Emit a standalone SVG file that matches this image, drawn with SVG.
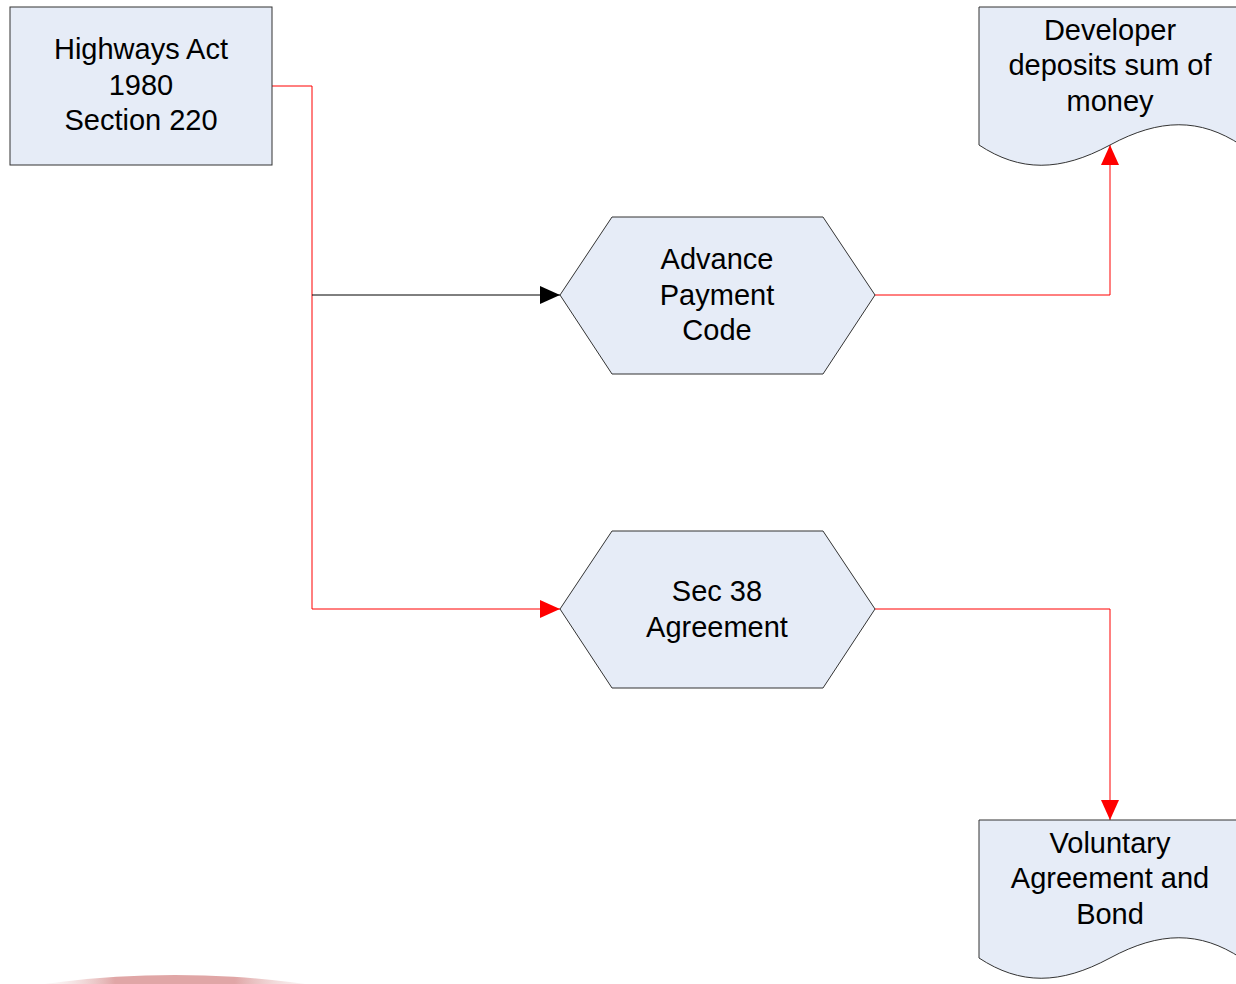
<svg xmlns="http://www.w3.org/2000/svg" width="1236" height="984" viewBox="0 0 1236 984">
<style>
.node{fill:#e6ecf7;stroke:#333;stroke-width:1}
.t{font-family:"Liberation Sans",Arial,sans-serif;font-size:29px;fill:#000;text-anchor:middle}
.red{fill:none;stroke:#ff0000;stroke-width:1}
.blk{fill:none;stroke:#000;stroke-width:1}
</style>
<defs>
<marker id="ar" markerWidth="20" markerHeight="20" refX="20" refY="10" orient="auto" markerUnits="userSpaceOnUse">
<path d="M0,1 L20,10 L0,19 Z" fill="#ff0000"/>
</marker>
<marker id="ab" markerWidth="20" markerHeight="20" refX="20" refY="10" orient="auto" markerUnits="userSpaceOnUse">
<path d="M0,1 L20,10 L0,19 Z" fill="#000"/>
</marker>
<linearGradient id="pk" x1="0" y1="0" x2="1" y2="0">
<stop offset="0.3" stop-color="#f4e4e4" stop-opacity="0.4"/>
<stop offset="0.4" stop-color="#e0a6a6"/>
<stop offset="0.6" stop-color="#e0a6a6"/>
<stop offset="0.72" stop-color="#f4e4e4" stop-opacity="0.4"/>
</linearGradient>
</defs>
<rect width="1236" height="984" fill="#fff"/>
<ellipse cx="175" cy="1066" rx="300" ry="91" fill="url(#pk)"/>
<g id="connectors">
<polyline class="red" points="272,86 312,86 312,609 560,609" marker-end="url(#ar)"/>
<polyline class="blk" points="312,295 560,295" marker-end="url(#ab)"/>
<polyline class="red" points="875,295 1110,295 1110,145" marker-end="url(#ar)"/>
<polyline class="red" points="875,609 1110,609 1110,820" marker-end="url(#ar)"/>
</g>
<g id="highways">
<rect class="node" x="10" y="7" width="262" height="158"/>
<text class="t" x="141" y="59">Highways Act</text>
<text class="t" x="141" y="95">1980</text>
<text class="t" x="141" y="130">Section 220</text>
</g>
<g id="advance">
<polygon class="node" points="560,295 612,217 823,217 875,295 823,374 612,374"/>
<text class="t" x="717" y="269">Advance</text>
<text class="t" x="717" y="305">Payment</text>
<text class="t" x="717" y="340">Code</text>
</g>
<g id="sec38">
<polygon class="node" points="560,609 612,531 823,531 875,609 823,688 612,688"/>
<text class="t" x="717" y="601">Sec 38</text>
<text class="t" x="717" y="637">Agreement</text>
</g>
<g id="developer">
<path class="node" d="M979,7 H1241 V145 C1200,118 1160,118 1110,145 C1060,172 1020,172 979,145 Z"/>
<text class="t" x="1110" y="40">Developer</text>
<text class="t" x="1110" y="75">deposits sum of</text>
<text class="t" x="1110" y="111">money</text>
</g>
<g id="voluntary">
<path class="node" d="M979,820 H1241 V958 C1200,931 1160,931 1110,958 C1060,985 1020,985 979,958 Z"/>
<text class="t" x="1110" y="853">Voluntary</text>
<text class="t" x="1110" y="888">Agreement and</text>
<text class="t" x="1110" y="924">Bond</text>
</g>
</svg>
